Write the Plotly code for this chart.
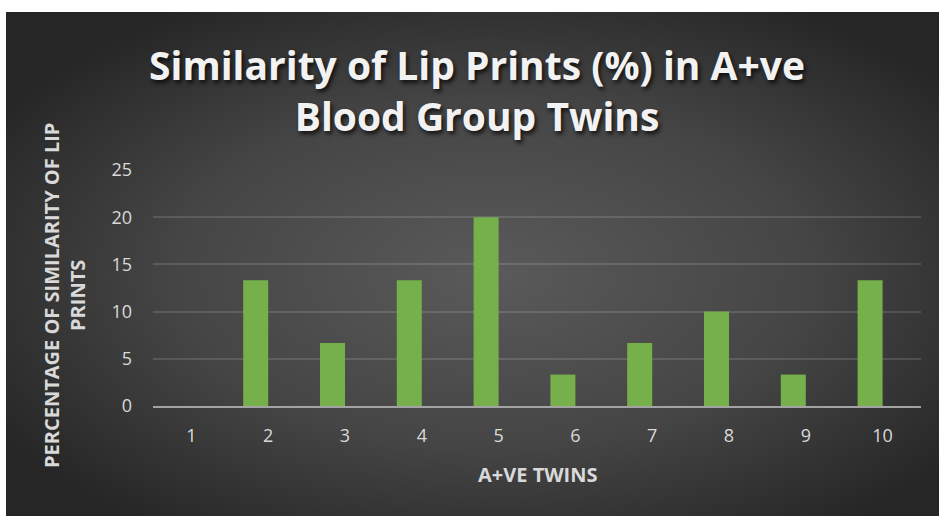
import base64
import plotly.graph_objects as go

twins = ["1", "2", "3", "4", "5", "6", "7", "8", "9", "10"]
similarity = [0, 13.33, 6.67, 13.33, 20, 3.33, 6.67, 10, 3.33, 13.33]
y_ticks = [0, 5, 10, 15, 20, 25]

title_text = "Similarity of Lip Prints (%) in A+ve<br>Blood Group Twins"
y_title = "PERCENTAGE OF SIMILARITY OF LIP<br>PRINTS"
x_title = "A+VE TWINS"

W, H = 939, 516
L, R, T, B = 153, 18, 170, 110
pw, ph = W - L - R, H - T - B

svg = f'''<svg xmlns="http://www.w3.org/2000/svg" width="933" height="504" viewBox="0 0 933 504" preserveAspectRatio="none">
<defs><radialGradient id="g" cx="0.52" cy="0.52" r="0.62" gradientUnits="objectBoundingBox">
<stop offset="0" stop-color="#5a5a5a"/><stop offset="0.55" stop-color="#454545"/><stop offset="1" stop-color="#262626"/></radialGradient></defs>
<rect x="0" y="0" width="933" height="504" fill="url(#g)"/></svg>'''
src = "data:image/svg+xml;base64," + base64.b64encode(svg.encode()).decode()


def px_to_paper_x(px):
    return (px - L) / pw


def py_to_paper_y(py):
    return (H - B - py) / ph


fig = go.Figure()
bar_w = 25 / (pw / len(twins))  # bar width in category units
fig.add_trace(go.Bar(
    x=twins, y=similarity,
    width=bar_w, offset=-bar_w,
    marker=dict(color="#76b04a", line=dict(width=0)),
))

font = "Open Sans, Lato, sans-serif"

fig.update_layout(
    width=W, height=H,
    margin=dict(l=L, r=R, t=T, b=B, pad=0),
    paper_bgcolor="white",
    plot_bgcolor="rgba(0,0,0,0)",
    showlegend=False,
    images=[dict(
        source=src, xref="paper", yref="paper",
        x=px_to_paper_x(6), y=py_to_paper_y(12),
        sizex=px_to_paper_x(939) - px_to_paper_x(6),
        sizey=py_to_paper_y(12) - py_to_paper_y(516),
        xanchor="left", yanchor="top", sizing="stretch", layer="below",
    )],
    title=dict(
        text=title_text, x=477 / W, xanchor="center", xref="container",
        y=1 - 80 / H, yanchor="middle", yref="container",
        font=dict(family=font, size=39, color="#f2f2f2", weight="bold",
                  shadow="2px 3px 4px rgba(0,0,0,0.75)"),
    ),
    xaxis=dict(
        type="category", showgrid=False, showline=True, linecolor="#a3a3a3", linewidth=2,
        ticks="", tickfont=dict(family=font, size=18, color="#d9d9d9"),
        ticklabelstandoff=12,
    ),
    yaxis=dict(
        range=[0, 25], tickvals=y_ticks, showgrid=True,
        gridcolor="rgba(217,217,217,0.16)", gridwidth=1.5,
        zeroline=False, showline=False, ticks="",
        tickfont=dict(family=font, size=18, color="#d9d9d9"),
        ticklabelstandoff=20,
    ),
    annotations=[
        dict(
            text=y_title, textangle=-90, xref="paper", yref="paper",
            x=px_to_paper_x(64), y=py_to_paper_y(296), xanchor="center", yanchor="middle",
            showarrow=False,
            font=dict(family=font, size=20, color="#d9d9d9", weight="bold"),
        ),
        dict(
            text=x_title, xref="paper", yref="paper",
            x=px_to_paper_x(537), y=py_to_paper_y(474), xanchor="center", yanchor="middle",
            showarrow=False,
            font=dict(family=font, size=20, color="#d9d9d9", weight="bold"),
        ),
    ],
)

fig.write_html("out.html")
